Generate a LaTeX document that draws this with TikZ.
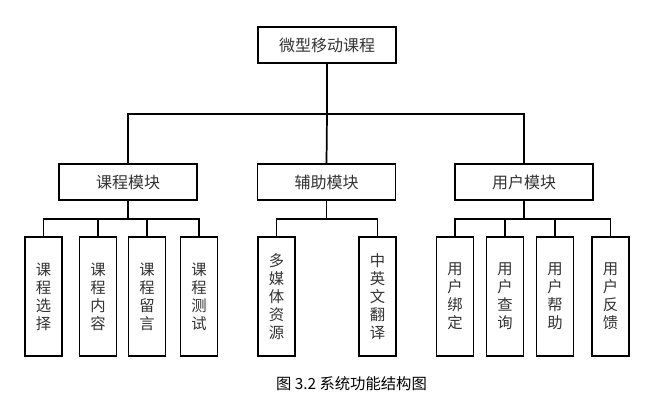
\documentclass[tikz,border=0pt]{standalone}
\usepackage{fontspec}
\setmainfont{Noto Sans CJK SC}
\begin{document}
\begin{tikzpicture}[x=0.75pt,y=-0.75pt,
  box/.style={draw=black, line width=1.1pt, fill=white, text=black!80,
    minimum width=103.5pt, minimum height=27pt, inner sep=0pt,
    font=\fontsize{12}{14}\selectfont},
  leaf/.style={draw=black, line width=1.1pt, fill=white, text=black!80,
    minimum width=27.75pt, minimum height=89.25pt, inner sep=0pt, align=center,
    font=\fontsize{11.5}{13.5}\selectfont},
  link/.style={draw=black, line width=1.3pt}]
\useasboundingbox (0,0) rectangle (665,408);
% top
\node[box] (top) at (327,45) {微型移动课程};
% level 2
\node[box] (m1) at (128,182) {课程模块};
\node[box] (m2) at (326.5,182) {辅助模块};
\node[box] (m3) at (524,182) {用户模块};
% leaves
\node[leaf] (a1) at (43.5,296.5) {课\\程\\选\\择};
\node[leaf] (a2) at (98,296.5) {课\\程\\内\\容};
\node[leaf] (a3) at (147,296.5) {课\\程\\留\\言};
\node[leaf] (a4) at (199,296.5) {课\\程\\测\\试};
\node[leaf] (b1) at (276.5,296.5) {多\\媒\\体\\资\\源};
\node[leaf] (b2) at (377.5,296.5) {中\\英\\文\\翻\\译};
\node[leaf] (c1) at (455,296.5) {用\\户\\绑\\定};
\node[leaf] (c2) at (505,296.5) {用\\户\\查\\询};
\node[leaf] (c3) at (555,296.5) {用\\户\\帮\\助};
\node[leaf] (c4) at (610.5,296.5) {用\\户\\反\\馈};
% junctions
\coordinate (j0) at (327,114);
\coordinate (j1) at (128,219);
\coordinate (j2) at (326.5,219);
\coordinate (j3) at (524,219);
% connectors
\draw[link] (top.south) -- (j0);
\draw[link] (m1.north) |- (j0);
\draw[link] (m3.north) |- (j0);
\draw[link] (m2.north) -- (j0);
\draw[link] (m1.south) -- (j1);
\draw[link] (a1.north) |- (j1);
\draw[link] (a4.north) |- (j1);
\draw[link] (a2.north) -- (a2.north |- j1);
\draw[link] (a3.north) -- (a3.north |- j1);
\draw[link] (m2.south) -- (j2);
\draw[link] (b1.north) |- (j2);
\draw[link] (b2.north) |- (j2);
\draw[link] (m3.south) -- (j3);
\draw[link] (c1.north) |- (j3);
\draw[link] (c4.north) |- (j3);
\draw[link] (c2.north) -- (c2.north |- j3);
\draw[link] (c3.north) -- (c3.north |- j3);
% caption
\node[font=\fontsize{11.5}{13}\selectfont, text=black] (cap) at (351.5,384) {图 3.2 系统功能结构图};
\end{tikzpicture}
\end{document}
